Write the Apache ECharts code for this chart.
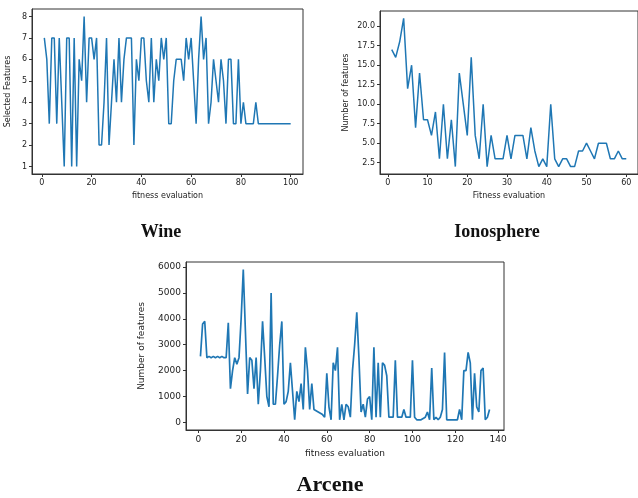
<!DOCTYPE html>
<html><head><meta charset="utf-8">
<script src="https://cdn.jsdelivr.net/npm/echarts@6/dist/echarts.min.js"></script>
<style>html,body{margin:0;padding:0;background:#fff}#c{width:638px;height:498px}</style>
</head><body><div id="c"></div>
<script>
const wineValues = [7,6,3,7,7,3,7,4,1,7, 7,1,7,1,6,5,8,4,7,7, 6,7,2,2,4,7,2,4,6,4, 7,4,6,7,7,7,2,6,5,7,
  7,5,4,7,4,6,5,7,6,7, 3,3,5,6,6,6,5,7,6,7, 5,3,6,8,6,7,3,4,6,5, 4,6,5,3,6,6,3,3,6,3,
  4,3,3,3,3,4,3,3,3,3, 3,3,3,3,3,3,3,3,3,3];
const ionoValues = [17,16,18,21,12,15,7,14,8,8, 6,9,3,10,3,8,2,14,10,6, 16,6,3,10,2,6,3,3,3,6,
  3,6,6,6,3,7,4,2,3,2, 10,3,2,3,3,2,2,4,4,5, 4,3,5,5,5,3,3,4,3,3];
const arceneValues = [2550,3800,3900,2500,2550,2500,2550,2500,2550,2500,
  2550,2500,2500,3850,1300,2000,2500,2250,2500,4000,
  5900,3500,1100,2500,2400,1300,2500,700,2000,3900,
  2500,1000,600,5000,700,700,1800,3000,3900,700,
  800,1200,2300,1200,100,1200,800,1500,500,2900,
  2000,500,1500,500,450,400,350,300,200,1900,
  600,100,2300,2000,2900,100,700,100,700,600,
  200,2000,3000,4250,2500,400,700,200,900,1000,
  100,2900,200,2300,200,2300,2200,1800,200,200,
  200,2400,200,200,200,500,200,200,200,2400,
  200,100,100,100,150,200,400,100,2100,100,
  200,100,200,500,2700,100,100,100,100,100,
  100,500,100,2000,2000,2700,2300,100,1900,600,
  400,2000,2100,100,200,500];
const wineXTicks = [0,20,40,60,80,100];
const wineYTicks = [1,2,3,4,5,6,7,8];
const ionoXTicks = [0,10,20,30,40,50,60];
const ionoYTicks = [2.5,5,7.5,10,12.5,15,17.5,20];
const arceneXTicks = [0,20,40,60,80,100,120,140];
const arceneYTicks = [0,1000,2000,3000,4000,5000,6000];

const pairs = v => v.map((y, i) => [i + 1, y]);
const FONT = 'DejaVu Sans';
const AX = '#333';
const plain = v => String(v);

function xAx(gi, min, max, ticks, name, gap, fs) {
  return {
    type: 'value', gridIndex: gi, min, max,
    name, nameLocation: 'middle', nameGap: gap,
    nameTextStyle: {fontFamily: FONT, fontSize: fs, color: '#222'},
    axisLine: {show: true, onZero: false, lineStyle: {color: AX, width: 1}},
    axisTick: {show: true, length: 3, customValues: ticks, lineStyle: {color: AX}},
    axisLabel: {customValues: ticks, fontFamily: FONT, fontSize: fs, color: '#222', margin: 5, formatter: plain},
    splitLine: {show: false}
  };
}
function yAx(gi, min, max, ticks, name, gap, fs, fmt) {
  return {
    type: 'value', gridIndex: gi, min, max,
    name, nameLocation: 'middle', nameGap: gap, nameRotate: 90,
    nameTextStyle: {fontFamily: FONT, fontSize: fs, color: '#222'},
    axisLine: {show: true, onZero: false, lineStyle: {color: AX, width: 1}},
    axisTick: {show: true, length: 3, customValues: ticks, lineStyle: {color: AX}},
    axisLabel: {customValues: ticks, fontFamily: FONT, fontSize: fs, color: '#222', margin: 5, formatter: fmt || plain},
    splitLine: {show: false}
  };
}

const chart = echarts.init(document.getElementById('c'), null, {renderer: 'canvas'});
chart.setOption({
  backgroundColor: '#fff',
  animation: false,
  grid: [
    {left: 32, top: 9, width: 271, height: 165, show: true, borderColor: AX, borderWidth: 1, backgroundColor: '#fff'},
    {left: 380, top: 11, width: 261, height: 163, show: true, borderColor: AX, borderWidth: 1, backgroundColor: '#fff'},
    {left: 186, top: 262, width: 318, height: 168, show: true, borderColor: AX, borderWidth: 1, backgroundColor: '#fff'}
  ],
  xAxis: [
    xAx(0, -3.95, 104.95, wineXTicks, 'fitness evaluation', 18, 8),
    xAx(1, -1.95, 62.95, ionoXTicks, 'Fitness evaluation', 18, 8),
    xAx(2, -5.75, 142.75, arceneXTicks, 'fitness evaluation', 19, 9)
  ],
  yAxis: [
    yAx(0, 0.65, 8.35, wineYTicks, 'Selected Features', 20, 8),
    yAx(1, 1.05, 21.95, ionoYTicks, 'Number of features', 30, 8, v => v.toFixed(1)),
    yAx(2, -295, 6195, arceneYTicks, 'Number of features', 40, 9)
  ],
  series: [
    {type: 'line', xAxisIndex: 0, yAxisIndex: 0, data: pairs(wineValues), showSymbol: false, lineStyle: {color: '#1f77b4', width: 1.5}},
    {type: 'line', xAxisIndex: 1, yAxisIndex: 1, data: pairs(ionoValues), showSymbol: false, lineStyle: {color: '#1f77b4', width: 1.5}},
    {type: 'line', xAxisIndex: 2, yAxisIndex: 2, data: pairs(arceneValues), showSymbol: false, lineStyle: {color: '#1f77b4', width: 1.7}}
  ],
  title: [
    {text: 'Wine', left: 156, top: 218, textAlign: 'center',
     textStyle: {fontFamily: 'Liberation Serif', fontWeight: 'bold', fontSize: 18, color: '#111'}},
    {text: 'Ionosphere', left: 492, top: 218, textAlign: 'center',
     textStyle: {fontFamily: 'Liberation Serif', fontWeight: 'bold', fontSize: 18, color: '#111'}},
    {text: 'Arcene', left: 325, top: 469, textAlign: 'center',
     textStyle: {fontFamily: 'Liberation Serif', fontWeight: 'bold', fontSize: 22, color: '#111'}}
  ]
});
</script></body></html>
